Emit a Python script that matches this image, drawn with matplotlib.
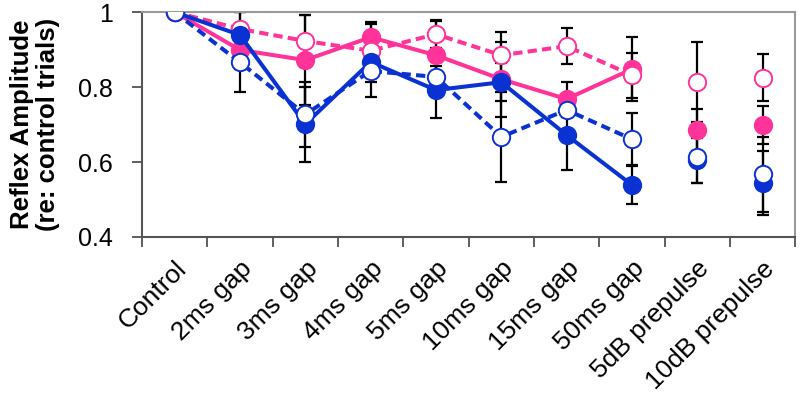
import matplotlib
matplotlib.use("Agg")
import matplotlib.pyplot as plt
import numpy as np

plt.rcParams['font.family'] = ['Liberation Sans', 'DejaVu Sans']

categories = ["Control", "2ms gap", "3ms gap", "4ms gap", "5ms gap", "10ms gap",
              "15ms gap", "50ms gap", "5dB prepulse", "10dB prepulse"]
n_connected = 8  # gap conditions joined by lines; prepulse points stand alone

pink_filled = [1.0, 0.899, 0.872, 0.933, 0.885, 0.821, 0.768, 0.848, 0.685, 0.699]
pink_filled_err = [0, 0.05, 0.12, 0.04, 0.09, 0.10, 0.046, 0.085, 0.056, 0.05]
pink_open = [1.0, 0.955, 0.923, 0.897, 0.941, 0.885, 0.909, 0.832, 0.814, 0.825]
pink_open_err = [0, 0.045, 0.07, 0.07, 0.038, 0.062, 0.048, 0.06, 0.107, 0.062]
blue_filled = [1.0, 0.939, 0.701, 0.867, 0.792, 0.813, 0.672, 0.539, 0.605, 0.544]
blue_filled_err = [0, 0.06, 0.10, 0.054, 0.075, 0.05, 0.093, 0.05, 0.06, 0.085]
blue_open = [1.0, 0.866, 0.727, 0.843, 0.827, 0.667, 0.739, 0.661, 0.614, 0.568]
blue_open_err = [0, 0.08, 0.087, 0.07, 0.03, 0.12, 0.02, 0.07, 0.07, 0.10]

yticks = [0.4, 0.6, 0.8, 1.0]
ytick_labels = ["0.4", "0.6", "0.8", "1"]

PINK = '#FF3399'
BLUE = '#0A32D2'

fig = plt.figure(figsize=(8, 4.04), dpi=100)
ax = fig.add_axes([0.1775, 0.4134, 0.8165, 0.5566])

x = np.arange(len(categories))

series = [
    (pink_filled, pink_filled_err, PINK, True, '-'),
    (pink_open, pink_open_err, PINK, False, '--'),
    (blue_filled, blue_filled_err, BLUE, True, '-'),
    (blue_open, blue_open_err, BLUE, False, '--'),
]

for vals, err, col, filled, ls in series:
    ax.errorbar(x, vals, yerr=err, fmt='none', ecolor='black', elinewidth=1.6,
                capsize=4, capthick=1.6, zorder=1)

z = 2
for vals, err, col, filled, ls in series:
    line_kw = dict(color=col, lw=2.9, zorder=z)
    if ls == '--':
        line_kw['dashes'] = (2.3, 1.3)
    ax.plot(x[:n_connected], vals[:n_connected], **line_kw)
    ax.plot(x, vals, linestyle='none', marker='o', markersize=12.5,
            markerfacecolor=col if filled else 'white', markeredgecolor=col,
            markeredgewidth=1.4, zorder=z + 0.5)
    z += 1

ax.set_xlim(-0.5, len(categories) - 0.5)
ax.set_ylim(0.4, 1.0)
ax.set_yticks(yticks)
ax.set_yticklabels(ytick_labels, fontsize=18)

ax.set_xticks(np.arange(len(categories) + 1) - 0.5)
ax.set_xticklabels([])
ax.set_xticks(x, minor=True)
ax.set_xticklabels(categories, minor=True, rotation=45, ha='right',
                   rotation_mode='anchor', fontsize=19)
ax.tick_params(axis='x', which='minor', length=0, pad=14)
ax.tick_params(axis='x', which='major', length=7, width=1.2, color='#444444')
ax.tick_params(axis='y', length=7, width=1.2, color='#444444', pad=14)

for side in ['left', 'bottom']:
    ax.spines[side].set_color('#555555')
    ax.spines[side].set_linewidth(1.5)
for side in ['top', 'right']:
    ax.spines[side].set_color('#999999')
    ax.spines[side].set_linewidth(1.5)

ax.set_ylabel("Reflex Amplitude\n(re: control trials)", fontsize=18.5,
              fontweight='bold', labelpad=13, linespacing=1.1)

fig.savefig("out.png", dpi=100)
